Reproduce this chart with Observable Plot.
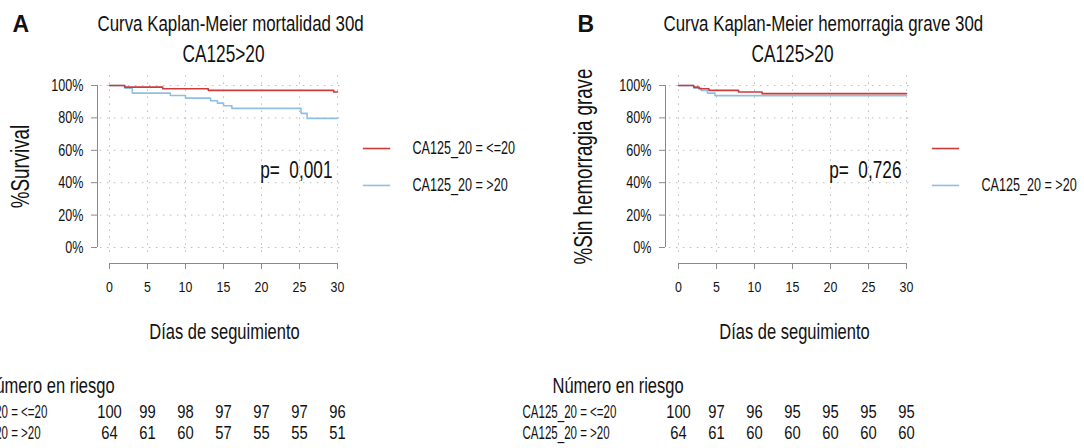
<!DOCTYPE html>
<html><head><meta charset="utf-8">
<script src="https://cdn.jsdelivr.net/npm/d3@7"></script>
<script src="https://cdn.jsdelivr.net/npm/@observablehq/plot@0.6"></script>
<style>
body{margin:0;background:#fff;}
#wrap{display:flex;width:1084px;height:448px;overflow:hidden;}
</style></head><body><div id="wrap"></div>
<script>
const FONT = "'Liberation Sans', Arial, sans-serif";
const riskTimes = [0, 5, 10, 15, 20, 25, 30];
const yTicks = [0, 0.2, 0.4, 0.6, 0.8, 1];
const groupLabels = ["CA125_20 = <=20", "CA125_20 = >20"];
const groupColors = ["#cc3a3a", "#8fc0e3"];

// Panel A — mortalidad
const aTitle = "Curva Kaplan-Meier mortalidad 30d";
const aSub = "CA125>20";
const aYLabel = "%Survival";
const aP = "p=  0,001";
const aLowTime = [0, 2, 7, 13, 29.5, 30];
const aLowSurv = [1, 0.99, 0.98, 0.97, 0.96, 0.96];
const aHighTime = [0, 2, 3, 8, 10, 13.3, 14.2, 15, 16.1, 25.2, 26, 30];
const aHighSurv = [1, 0.984, 0.953, 0.938, 0.922, 0.906, 0.891, 0.875, 0.859, 0.828, 0.797, 0.797];
const aRiskLow = [100, 99, 98, 97, 97, 97, 96];
const aRiskHigh = [64, 61, 60, 57, 55, 55, 51];

// Panel B — hemorragia grave
const bTitle = "Curva Kaplan-Meier hemorragia grave 30d";
const bSub = "CA125>20";
const bYLabel = "%Sin hemorragia grave";
const bP = "p=  0,726";
const bLowTime = [0, 2, 2.7, 4, 7.9, 11, 30];
const bLowSurv = [1, 0.99, 0.98, 0.97, 0.96, 0.95, 0.95];
const bHighTime = [0, 2, 3, 3.8, 4.8, 30];
const bHighSurv = [1, 0.984, 0.969, 0.953, 0.9375, 0.9375];
const bRiskLow = [100, 97, 96, 95, 95, 95, 95];
const bRiskHigh = [64, 61, 60, 60, 60, 60, 60];

const xLabel = "Días de seguimiento";
const riskHeader = "Número en riesgo";

// horizontal glyph condensation per text group (narrow sans look of the original)
const narrow = {
  title: 0.75, sub: 0.75, ylab: 0.75, xlab: 0.75, pval: 0.75,
  ytick: 0.74, xtick: 0.8, legend: 0.7, header: 0.75, rowlab: 0.64, riskval: 0.82
};

function toRows(times, surv) { return times.map((t, i) => ({t, s: surv[i]})); }

function panel(c) {
  const txt = "#111", ax = "#8a8a8a", grid = "#bdbdbd";
  const legY = [0.611, 0.383];
  return Plot.plot({
    width: c.width, height: 448,
    marginLeft: c.ml, marginRight: c.width - c.ml - 228, marginTop: 85, marginBottom: 201,
    x: {domain: [0, 30], axis: null},
    y: {domain: [0, 1], axis: null},
    style: {fontFamily: FONT, fontSize: "15px", color: txt, background: "white", overflow: "visible"},
    marks: [
      Plot.ruleX(riskTimes, {y1: -0.03, y2: 1.08, stroke: grid, strokeDasharray: "1.5,5.5"}),
      Plot.ruleY(yTicks, {x1: -1.2, x2: 30.4, stroke: grid, strokeDasharray: "1.5,5.5"}),
      // y axis: line, ticks, labels
      Plot.ruleX([0], {y1: 0, y2: 1, dx: c.yAxisDx, stroke: ax}),
      Plot.ruleY(yTicks, {x1: 0, x2: 0, insetLeft: -6, dx: c.yAxisDx, stroke: ax}),
      Plot.text(yTicks, {y: d => d, frameAnchor: "left", dx: c.yAxisDx - 14, textAnchor: "end", lineAnchor: "middle",
        text: d => Math.round(d * 100) + "%", fontSize: 17, ariaDescription: "ytick"}),
      // x axis: line, ticks, labels
      Plot.ruleY([0], {x1: 0, x2: 30, dy: 16, stroke: ax}),
      Plot.ruleX(riskTimes, {y1: 0, y2: 0, insetBottom: -6, dy: 16, stroke: ax}),
      Plot.text(riskTimes, {x: d => d, frameAnchor: "bottom", dy: 40, lineAnchor: "middle", text: d => String(d), fontSize: 15.5, ariaDescription: "xtick"}),
      // survival curves
      Plot.line(toRows(c.highT, c.highS), {x: "t", y: "s", curve: "step-after", stroke: groupColors[1], strokeWidth: 1.6}),
      Plot.line(toRows(c.lowT, c.lowS), {x: "t", y: "s", curve: "step-after", stroke: groupColors[0], strokeWidth: 1.6}),
      // panel letter
      Plot.text([c.letter], {frameAnchor: "top-left", dx: c.letterDx, dy: -61, lineAnchor: "middle", textAnchor: "start", fontWeight: "bold", fontSize: 23, ariaDescription: "letter"}),
      // titles
      Plot.text([c.title], {frameAnchor: "top-left", dx: c.titleDx, dy: -62, lineAnchor: "middle", textAnchor: "start", fontSize: 22.5, ariaDescription: "title"}),
      Plot.text([c.sub], {frameAnchor: "top", dy: -31, lineAnchor: "middle", textAnchor: "middle", fontSize: 23, ariaDescription: "sub"}),
      // axis labels
      Plot.text([c.ylab], {frameAnchor: "left", dx: c.ylabDx, rotate: -90, textAnchor: "middle", lineAnchor: "middle", fontSize: 25, ariaDescription: "ylab"}),
      Plot.text([xLabel], {frameAnchor: "bottom", dx: c.xlabDx, dy: 84, lineAnchor: "middle", textAnchor: "middle", fontSize: 22, ariaDescription: "xlab"}),
      // p-value
      Plot.text([c.p], {frameAnchor: "top-right", dx: -5, dy: 85, lineAnchor: "middle", textAnchor: "end", fontSize: 23, ariaDescription: "pval"}),
      // legend
      Plot.ruleY([legY[0]], {x1: 33.4, x2: 37, stroke: groupColors[0], strokeWidth: 1.6}),
      Plot.ruleY([legY[1]], {x1: 33.4, x2: 37, stroke: groupColors[1], strokeWidth: 1.6}),
      Plot.text(c.legendText, {frameAnchor: "right", dx: 75, y: (d, i) => legY[c.legendIdx[i]], textAnchor: "start", lineAnchor: "middle", fontSize: 18, ariaDescription: "legend"}),
      // risk table
      Plot.text([riskHeader], {frameAnchor: "bottom-left", dx: -126, dy: 138, lineAnchor: "middle", textAnchor: "start", fontSize: 22, ariaDescription: "header"}),
      Plot.text([groupLabels[0]], {frameAnchor: "bottom-left", dx: -156, dy: 165, lineAnchor: "middle", textAnchor: "start", fontSize: 18, ariaDescription: "rowlab"}),
      Plot.text([groupLabels[1]], {frameAnchor: "bottom-left", dx: -156, dy: 186, lineAnchor: "middle", textAnchor: "start", fontSize: 18, ariaDescription: "rowlab"}),
      Plot.text(riskTimes, {x: d => d, frameAnchor: "bottom", text: (d, i) => c.riskLow[i], dy: 165, lineAnchor: "middle", fontSize: 18, ariaDescription: "riskval"}),
      Plot.text(riskTimes, {x: d => d, frameAnchor: "bottom", text: (d, i) => c.riskHigh[i], dy: 186, lineAnchor: "middle", fontSize: 18, ariaDescription: "riskval"})
    ]
  });
}

const wrap = document.getElementById("wrap");
wrap.append(panel({
  width: 520, ml: 109, yAxisDx: -12, letter: "A", letterDx: -97, title: aTitle, titleDx: -12, sub: aSub,
  ylab: aYLabel, ylabDx: -89, xlabDx: 1, p: aP, lowT: aLowTime, lowS: aLowSurv, highT: aHighTime, highS: aHighSurv,
  riskLow: aRiskLow, riskHigh: aRiskHigh, legendText: groupLabels, legendIdx: [0, 1]
}));
wrap.append(panel({
  width: 564, ml: 158, yAxisDx: -13, letter: "B", letterDx: -101, title: bTitle, titleDx: -15, sub: bSub,
  ylab: bYLabel, ylabDx: -95, xlabDx: 2, p: bP, lowT: bLowTime, lowS: bLowSurv, highT: bHighTime, highS: bHighSurv,
  riskLow: bRiskLow, riskHigh: bRiskHigh, legendText: [groupLabels[1]], legendIdx: [1]
}));

// condense glyphs horizontally around each text's own anchor point
function keyOf(el) {
  for (let n = el; n && n.getAttribute; n = n.parentNode) {
    for (const a of ["aria-description", "aria-label"]) {
      const v = n.getAttribute(a);
      if (v && narrow[v]) return v;
    }
  }
  return null;
}
wrap.querySelectorAll("svg text").forEach(el => {
  const k = keyOf(el);
  if (!k) return;
  const f = narrow[k];
  let tr = el.getAttribute("transform") || "";
  const x = el.getAttribute("x");
  if (x !== null && /^-?[\d.]+(px)?$/.test(x.trim())) {
    tr += ` translate(${parseFloat(x)},0)`;
    el.removeAttribute("x");
  }
  el.setAttribute("transform", `${tr} scale(${f},1)`.trim());
});
</script></body></html>
